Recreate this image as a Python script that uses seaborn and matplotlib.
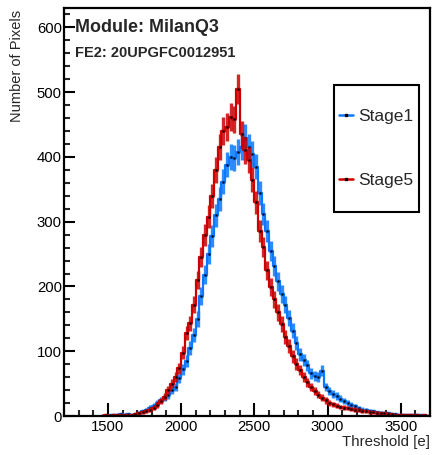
import numpy as np
import pandas as pd
import matplotlib
matplotlib.use("Agg")
import matplotlib.pyplot as plt
from matplotlib.lines import Line2D
from matplotlib.legend_handler import HandlerLine2D
from matplotlib.ticker import MultipleLocator
import seaborn as sns

# ---- data (bin lower edges, width 25 e) ----
bin_width = 25
bin_start = 1450
stage1 = [0, 0, 1, 1, 2, 3, 2, 3, 2, 3,
          5, 7, 9, 13, 16, 20, 25, 29, 32, 40,
          45, 58, 72, 85, 105, 125, 150, 185, 218, 250,
          278, 310, 335, 362, 388, 400, 398, 408, 415, 430,
          415, 405, 385, 345, 312, 285, 255, 232, 208, 188,
          172, 152, 132, 113, 95, 86, 78, 66, 62, 60,
          70, 45, 38, 34, 31, 27, 23, 20, 17, 15,
          12, 10, 9, 8, 7, 6, 5, 4, 4, 3,
          3, 2, 2, 2, 1, 1, 1, 1, 0, 0]
stage5 = [0, 1, 0, 1, 1, 1, 2, 1, 2, 3,
          4, 6, 8, 10, 13, 17, 23, 30, 40, 50,
          60, 74, 98, 128, 143, 172, 210, 245, 280, 308,
          340, 380, 415, 440, 446, 462, 458, 505, 435, 410,
          395, 365, 330, 285, 261, 225, 199, 180, 160, 142,
          122, 108, 92, 80, 71, 60, 52, 45, 38, 33,
          28, 24, 20, 18, 16, 14, 13, 12, 11, 10,
          9, 8, 7, 6, 6, 5, 4, 4, 3, 3,
          2, 2, 2, 1, 1, 1, 1, 0, 1, 0]
series_names = ["Stage1", "Stage5"]
series_colors = ["#0a78ff", "#cc0000"]
x_ticks = [1500, 2000, 2500, 3000, 3500]
y_ticks = [0, 100, 200, 300, 400, 500, 600]

n_bins = len(stage1)
edges = [bin_start + bin_width * i for i in range(n_bins + 1)]
centers = np.array(edges[:-1]) + bin_width / 2.0

rows = []
for name, vals in zip(series_names, [stage1, stage5]):
    for c, v in zip(centers, vals):
        rows.append({"threshold": c, "count": v, "stage": name})
df = pd.DataFrame(rows)

sns.set_style("ticks")
plt.rcParams["font.family"] = ["Liberation Sans", "DejaVu Sans"]

fig = plt.figure(figsize=(4.34, 4.55), dpi=100)
ax = fig.add_axes([64 / 434, 1 - 416 / 455, 366 / 434, 408 / 455])

for name, color in zip(series_names, series_colors):
    sub = df[df["stage"] == name]
    sns.histplot(data=sub, x="threshold", weights="count", bins=edges,
                 element="step", fill=False, color=color, lw=1.6, ax=ax)
    err = np.sqrt(sub["count"].to_numpy())
    ax.errorbar(sub["threshold"], sub["count"], yerr=err, xerr=bin_width / 2,
                fmt="none", ecolor=color, elinewidth=2.4, capsize=0, alpha=0.85)
    ax.plot(sub["threshold"], sub["count"], ls="none", marker="s",
            markersize=0.8, color="black", alpha=0.8)

ax.set_xlim(1200, 3700)
ax.set_ylim(0, 630)
ax.set_xticks(x_ticks)
ax.set_yticks(y_ticks)
ax.xaxis.set_minor_locator(MultipleLocator(100))
ax.yaxis.set_minor_locator(MultipleLocator(20))
ax.tick_params(axis="both", which="major", direction="in", width=1.5,
               labelsize=10.7, colors="black")
ax.tick_params(axis="x", which="major", length=9.5, pad=3)
ax.tick_params(axis="y", which="major", length=8, pad=1.5)
ax.tick_params(axis="both", which="minor", direction="in", width=1.5, length=4.5)
ax.set_xlabel("")
ax.set_ylabel("")
for sp in ax.spines.values():
    sp.set_visible(True)
    sp.set_linewidth(1.6)
    sp.set_color("black")

fig.text(75 / 434, 1 - 28 / 455, "Module: MilanQ3", fontsize=12.9,
         fontweight="bold", ha="left", va="center")
fig.text(75 / 434, 1 - 53 / 455, "FE2: 20UPGFC0012951", fontsize=10.5,
         fontweight="bold", ha="left", va="center")
fig.text(17 / 434, 1 - 10 / 455, "Number of Pixels", fontsize=10.5,
         rotation=90, ha="center", va="top")
fig.text(430 / 434, 1 - 442 / 455, "Threshold [e]", fontsize=10.8,
         ha="right", va="center")


class CenteredLineHandler(HandlerLine2D):
    def create_artists(self, legend, orig_handle, xdescent, ydescent,
                       width, height, fontsize, trans):
        arts = super().create_artists(legend, orig_handle, xdescent, ydescent,
                                      width, height, fontsize, trans)
        for a in arts:
            y = np.asarray(a.get_ydata(), dtype=float)
            a.set_ydata(np.full_like(y, 0.36 * fontsize))
        return arts


handles = [Line2D([0], [0], color=c, lw=1.8, marker="s", markersize=1.5,
                  markerfacecolor="black", markeredgecolor="black")
           for c in series_colors]
leg = ax.legend(handles, series_names, loc="upper left",
                bbox_to_anchor=((334 - 64) / 366, (416 - 85) / 408),
                fontsize=12.5, frameon=True, fancybox=False, framealpha=1,
                edgecolor="black", handlelength=0.8, handletextpad=0.3,
                handleheight=4.28, labelspacing=0.66, borderpad=0.3,
                borderaxespad=0,
                handler_map={Line2D: CenteredLineHandler()})
leg.get_frame().set_linewidth(1.5)

fig.savefig("out.png", dpi=100)
